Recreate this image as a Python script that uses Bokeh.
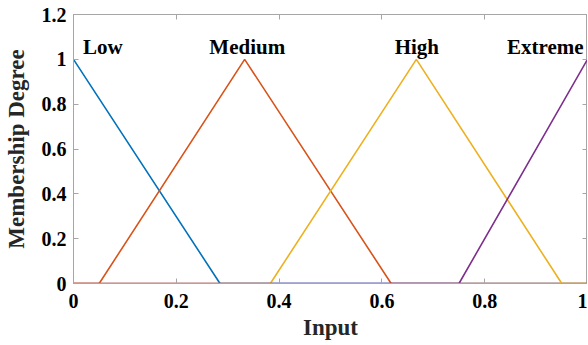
from bokeh.plotting import figure
from bokeh.models import Range1d, LinearAxis, FixedTicker, ColumnDataSource
from bokeh.core.properties import value
from bokeh.embed import file_html
from bokeh.resources import INLINE

# ---- data ----
low_x = [0.0, 0.285, 1.0]
low_y = [1.0, 0.0, 0.0]
medium_x = [0.0, 0.05, 0.333, 0.618, 1.0]
medium_y = [0.0, 0.0, 1.0, 0.0, 0.0]
high_x = [0.0, 0.383, 0.667, 0.95, 1.0]
high_y = [0.0, 0.0, 1.0, 0.0, 0.0]
extreme_x = [0.0, 0.75, 1.0]
extreme_y = [0.0, 0.0, 1.0]

label_names = ["Low", "Medium", "High", "Extreme"]
label_x = [0.057, 0.338, 0.668, 0.918]
label_y = [1.055, 1.055, 1.055, 1.055]

x_ticks = [0, 0.2, 0.4, 0.6, 0.8, 1.0]
x_tick_labels = ["0", "0.2", "0.4", "0.6", "0.8", "1"]
y_ticks = [0, 0.2, 0.4, 0.6, 0.8, 1.0, 1.2]
y_tick_labels = ["0", "0.2", "0.4", "0.6", "0.8", "1", "1.2"]

colors = ["#0072BD", "#D95319", "#EDB120", "#7E2F8E"]
FONT = "Liberation Serif"
AX_COLOR = "#a6a6a6"

p = figure(width=587, height=343, output_backend="svg", toolbar_location=None,
           x_range=Range1d(0, 1), y_range=Range1d(0, 1.2),
           min_border_left=68, min_border_right=0, min_border_top=14, min_border_bottom=60)
p.grid.visible = False
p.outline_line_color = AX_COLOR
p.background_fill_color = "white"

for xs, ys, c in [(low_x, low_y, colors[0]), (medium_x, medium_y, colors[1]),
                  (high_x, high_y, colors[2]), (extreme_x, extreme_y, colors[3])]:
    p.line(xs, ys, line_color=c, line_width=1.6)

src = ColumnDataSource(dict(x=label_x, y=label_y, t=label_names))
p.text(x="x", y="y", text="t", source=src, text_align="center", text_baseline="alphabetic",
       text_font=value(FONT), text_font_style="bold", text_font_size="21px", text_color="black")

def style(ax, ticks, labels, show):
    ax.ticker = FixedTicker(ticks=ticks)
    ax.major_label_overrides = {t: l for t, l in zip(ticks, labels)}
    ax.axis_line_color = AX_COLOR
    ax.major_tick_line_color = AX_COLOR
    ax.major_tick_in = 5
    ax.major_tick_out = 0
    ax.minor_tick_line_color = None
    ax.major_label_text_font = FONT
    ax.major_label_text_font_style = "bold"
    ax.major_label_text_color = "black"
    if show:
        ax.major_label_text_font_size = "20px"
        ax.axis_label_text_font = FONT
        ax.axis_label_text_font_style = "bold"
        ax.axis_label_text_font_size = "23px"
        ax.axis_label_text_color = "#262626"
    else:
        ax.major_label_text_font_size = "0px"
        ax.major_label_standoff = 0

p.xaxis.axis_label = "Input"
p.yaxis.axis_label = "Membership Degree"
style(p.xaxis[0], x_ticks, x_tick_labels, True)
style(p.yaxis[0], y_ticks, y_tick_labels, True)
p.xaxis.major_label_standoff = 10
p.yaxis.major_label_standoff = 7
p.xaxis.axis_label_standoff = 4
p.yaxis.axis_label_standoff = 10

top = LinearAxis()
right = LinearAxis()
style(top, x_ticks, x_tick_labels, False)
style(right, y_ticks, y_tick_labels, False)
p.add_layout(top, "above")
p.add_layout(right, "right")

open("out.html", "w").write(file_html(p, INLINE))
